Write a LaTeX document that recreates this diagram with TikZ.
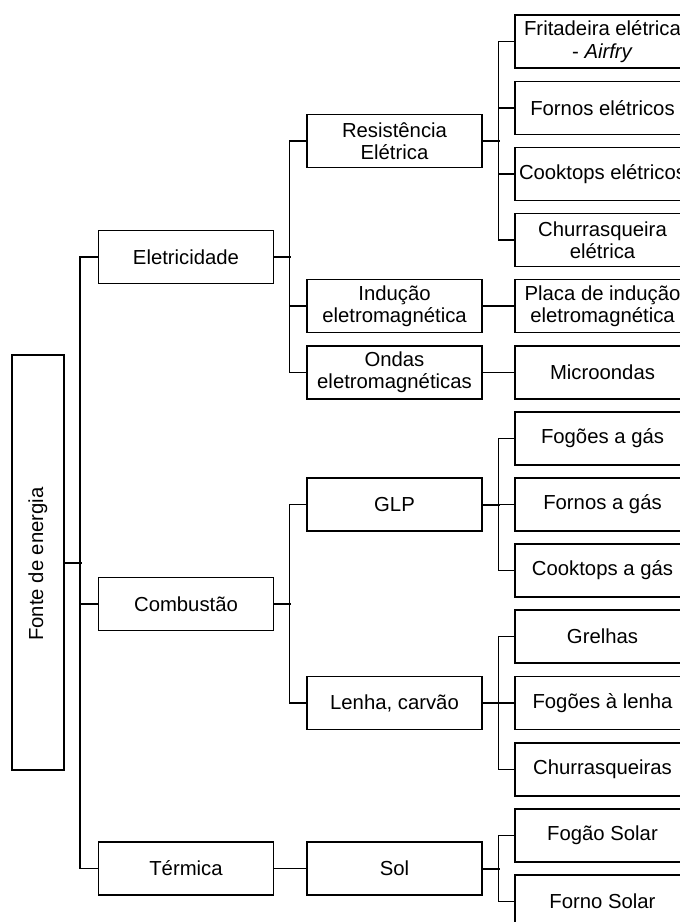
\documentclass[tikz,border=0pt]{standalone}
\usepackage{fontspec}
\setmainfont{Liberation Sans}
\begin{document}
\begin{tikzpicture}[x=0.5pt,y=-0.5pt,
  every node/.style={font=\fontsize{10.15pt}{11.2pt}\selectfont, align=center, inner sep=0pt},
  box/.style={draw, line width=0.65pt, minimum width=87.5pt, minimum height=26.5pt},
  rootbox/.style={draw, line width=0.65pt, minimum width=26pt, minimum height=207.5pt},
  conn/.style={line width=0.65pt},
  stub/.style={line width=1pt}]
\clip (0,0) rectangle (680,922);
\useasboundingbox (0,0) rectangle (680,922);
% root
\node[rootbox] (fonte) at (38,562.5) {};
\node[rotate=90] at (38,564) {Fonte de energia};
% level 1
\node[box] (ele) at (186,257) {Eletricidade};
\node[box] (com) at (186,604) {Combustão};
\node[box] (ter) at (186,868.5) {Térmica};
% level 2
\node[box] (res) at (394.5,141) {Resistência\\Elétrica};
\node[box] (ind) at (394.5,306) {Indução\\eletromagnética};
\node[box] (ond) at (394.5,372.5) {Ondas\\eletromagnéticas};
\node[box] (glp) at (394.5,504.5) {GLP};
\node[box] (len) at (394.5,703) {Lenha, carvão};
\node[box] (sol) at (394.5,868.5) {Sol};
% level 3
\node[box] (fri) at (602.5,41.5) {Fritadeira elétrica\\- \textit{Airfry}};
\node[box] (foe) at (602.5,108) {Fornos elétricos};
\node[box] (coe) at (602.5,174) {Cooktops elétricos};
\node[box] (chu) at (602.5,240) {Churrasqueira\\elétrica};
\node[box] (pla) at (602.5,306) {Placa de indução\\eletromagnética};
\node[box] (mic) at (602.5,372.5) {Microondas};
\node[box] (fog) at (602.5,438.5) {Fogões a gás};
\node[box] (fga) at (602.5,504.5) {Fornos a gás};
\node[box] (cga) at (602.5,570.5) {Cooktops a gás};
\node[box] (gre) at (602.5,636.5) {Grelhas};
\node[box] (fle) at (602.5,703) {Fogões à lenha};
\node[box] (chs) at (602.5,769.5) {Churrasqueiras};
\node[box] (fso) at (602.5,835.5) {Fogão Solar};
\node[box] (fno) at (602.5,901.5) {Forno Solar};
% root -> level 1
\draw[stub] (fonte.east) -- ++(17,0);
\foreach \c in {ele,com,ter} \draw[conn] (\c.west) -- ++(-18,0) |- (fonte.east);
% level 1 -> level 2
\draw[stub] (ele.east) -- ++(17,0);
\foreach \c in {res,ind,ond} \draw[conn] (\c.west) -- ++(-17,0) |- (ele.east);
\draw[stub] (com.east) -- ++(17,0);
\foreach \c in {glp,len} \draw[conn] (\c.west) -- ++(-17,0) |- (com.east);
\draw[conn] (ter.east) -- (sol.west);
% level 2 -> level 3
\draw[stub] (res.east) -- ++(17,0);
\foreach \c in {fri,foe,coe,chu} \draw[conn] (\c.west) -- ++(-16,0) |- (res.east);
\draw[conn] (ind.east) -- (pla.west);
\draw[conn] (ond.east) -- (mic.west);
\draw[stub] (glp.east) -- ++(17,0);
\foreach \c in {fog,fga,cga} \draw[conn] (\c.west) -- ++(-16,0) |- (glp.east);
\draw[stub] (len.east) -- ++(17,0);
\foreach \c in {gre,fle,chs} \draw[conn] (\c.west) -- ++(-16,0) |- (len.east);
\draw[stub] (sol.east) -- ++(17,0);
\foreach \c in {fso,fno} \draw[conn] (\c.west) -- ++(-16,0) |- (sol.east);
\end{tikzpicture}
\end{document}
